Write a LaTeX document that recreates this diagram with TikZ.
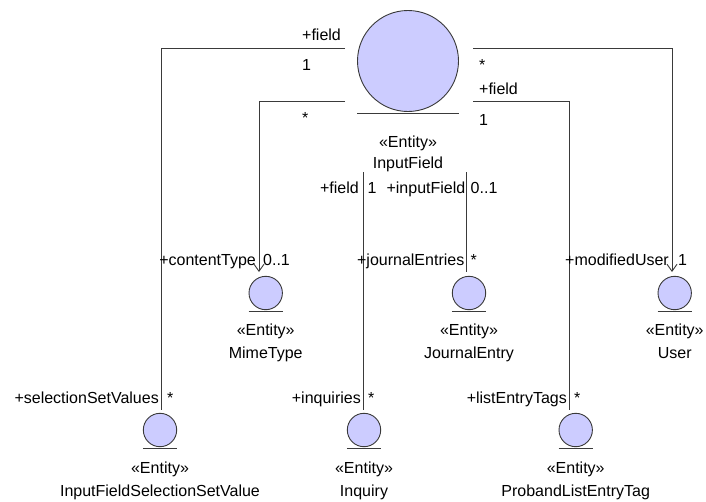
\documentclass[tikz,border=0pt]{standalone}
\usepackage{fontspec}
\setmainfont{Liberation Sans}
\usetikzlibrary{arrows.meta,calc}
\definecolor{entfill}{HTML}{CCCCFF}
\definecolor{lin}{HTML}{3A3A3A}
\begin{document}
\begin{tikzpicture}[x=1pt,y=-1pt,
  font=\fontsize{16}{19}\selectfont,
  ent/.style={circle,draw=lin,fill=entfill,line width=0.9pt,minimum size=33.4pt,inner sep=0pt},
  bigent/.style={ent,minimum size=101pt},
  assoc/.style={draw=lin,line width=0.9pt},
  nav/.style={assoc,-{Straight Barb[length=7pt,width=10pt,line width=0.9pt]}},
  rl/.style={inner sep=0pt,anchor=base east},
  ml/.style={inner sep=0pt,anchor=base west},
  tl/.style={inner sep=0pt,anchor=base},
  ]
\useasboundingbox (0,0) rectangle (706,501);

% entities
\node[bigent] (if) at (408,61) {};
\node[ent] (sel) at (160,430) {};
\node[ent] (inq) at (364,430) {};
\node[ent] (plt) at (575.7,430) {};
\node[ent] (mime) at (265.7,293) {};
\node[ent] (je) at (469,293) {};
\node[ent] (user) at (674.7,293) {};

\foreach \n in {if,sel,inq,plt,mime,je,user}
  \draw[assoc] ($(\n.west |- \n.south)+(0,1.3)$) -- ($(\n.east |- \n.south)+(0,1.3)$);

% entity texts
\node[tl] (ifS) at (408,147) {«Entity»};
\node[tl] (ifN) at (408,168.5) {InputField};
\node[tl] (selS) at (160,473.5) {«Entity»};
\node[tl] (selN) at (160,496) {InputFieldSelectionSetValue};
\node[tl] (inqS) at (364,473.5) {«Entity»};
\node[tl] (inqN) at (364,496) {Inquiry};
\node[tl] (pltS) at (575.7,473.5) {«Entity»};
\node[tl] (pltN) at (575.7,496) {ProbandListEntryTag};
\node[tl] (mimeS) at (265.7,335.5) {«Entity»};
\node[tl] (mimeN) at (265.7,358) {MimeType};
\node[tl] (jeS) at (469,335.5) {«Entity»};
\node[tl] (jeN) at (469,358) {JournalEntry};
\node[tl] (userS) at (674.7,335.5) {«Entity»};
\node[tl] (userN) at (674.7,358) {User};

% connector end points
\coordinate (ifL1) at (345,48);
\coordinate (ifL2) at (345,101);
\coordinate (ifR1) at (473,48);
\coordinate (ifR2) at (473,101);
\coordinate (ifB1) at (363,172);
\coordinate (ifB2) at (466,172);
\coordinate (selT) at (161,410);
\coordinate (inqT) at (363,410);
\coordinate (pltT) at (569,410);
\coordinate (mimeT) at (259,272);
\coordinate (jeT) at (466,272);
\coordinate (userT) at (672,272);

% connectors
\draw[assoc] (ifL1) -| (selT);
\draw[nav] (ifL2) -| (mimeT);
\draw[nav] (ifR1) -| (userT);
\draw[assoc] (ifR2) -| (pltT);
\draw[assoc] (ifB1) -- (inqT);
\draw[assoc] (ifB2) -- (jeT);

% association end labels
\node[ml] (l1) at (302,40.5) {+field};
\node[ml] (l2) at (302,70) {1};
\node[ml] (l3) at (302,123) {*};
\node[ml] (l4) at (479,70) {*};
\node[ml] (l5) at (479,94.5) {+field};
\node[ml] (l6) at (479,125) {1};
\node[rl] (l7) at (359,193) {+field};
\node[ml] (l8) at (367.5,193) {1};
\node[rl] (l9) at (465.5,193) {+inputField};
\node[ml] (l10) at (470.5,193) {0..1};
\node[rl] (l11) at (256,265) {+contentType};
\node[ml] (l12) at (263,265) {0..1};
\node[rl] (l13) at (464.5,265) {+journalEntries};
\node[ml] (l14) at (470.5,265) {*};
\node[rl] (l15) at (669,265.5) {+modifiedUser};
\node[ml] (l16) at (678,265.5) {1};
\node[rl] (l17) at (159,403.5) {+selectionSetValues};
\node[ml] (l18) at (167,403.5) {*};
\node[rl] (l19) at (361,403.5) {+inquiries};
\node[ml] (l20) at (368,403.5) {*};
\node[rl] (l21) at (567,403.5) {+listEntryTags};
\node[ml] (l22) at (574,403.5) {*};
\end{tikzpicture}
\end{document}
